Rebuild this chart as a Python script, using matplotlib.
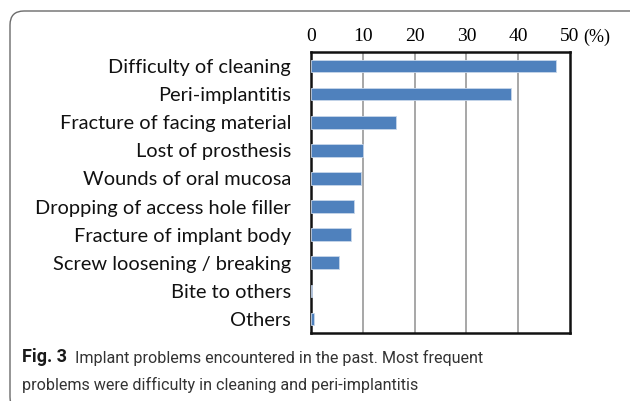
import numpy as np
import matplotlib
matplotlib.use('Agg')
import matplotlib.pyplot as plt
from matplotlib.patches import FancyBboxPatch

# Datos
categories = ['Difficulty of cleaning', 'Peri-implantitis', 'Fracture of facing material',
              'Lost of prosthesis', 'Wounds of oral mucosa', 'Dropping of access hole filler',
              'Fracture of implant body', 'Screw loosening / breaking', 'Bite to others', 'Others']
values = [47.3, 38.6, 16.4, 10.0, 9.7, 8.3, 7.8, 5.5, 0.25, 0.6]
xticks = [0, 10, 20, 30, 40, 50]

fig = plt.figure(figsize=(6.3, 4.01), dpi=100)
W, H = 630, 401

# Marco redondeado de la figura
frame = FancyBboxPatch((0.10, -0.10), 7.0, 4.01 - 0.11 + 0.10,
                       boxstyle='round,pad=0,rounding_size=0.14',
                       transform=fig.dpi_scale_trans, fill=False,
                       edgecolor='#6b6b6b', linewidth=1.0)
fig.patches.append(frame)

ax = fig.add_axes([311 / W, 1 - 333 / H, (570 - 311) / W, (333 - 52) / H])

y = np.arange(len(categories))
ax.barh(y, values, height=0.45, color='#4f81bd', edgecolor='#c7d6ea', linewidth=0.6, zorder=3)
ax.set_ylim(len(categories) - 0.5, -0.5)
ax.set_xlim(0, 50)

ax.set_yticks(y)
ax.set_yticklabels(categories, fontfamily='Lato', fontsize=14.4, color='#111111')
ax.set_xticks(xticks)
ax.set_xticklabels([str(t) for t in xticks], fontfamily='Liberation Serif', fontsize=14)
ax.xaxis.tick_top()
ax.tick_params(axis='x', length=0, pad=5)
ax.tick_params(axis='y', length=0, pad=14.4)

for t in xticks[1:-1]:
    ax.axvline(t, color='#a0a0a0', linewidth=1.3, zorder=1)

for s in ax.spines.values():
    s.set_linewidth(1.8)
    s.set_color('#111111')

ax.annotate('(%)', xy=(1, 1), xycoords='axes fraction', xytext=(9.4, 10.8),
            textcoords='offset points', fontfamily='Liberation Serif', fontsize=13,
            ha='left', va='center', annotation_clip=False)

# Pie de figura
cap_font = ['Liberation Sans Narrow', 'Roboto']
t1 = fig.text(22 / W, 1 - 362 / H, 'Fig. 3', fontfamily=cap_font, fontweight='bold',
              fontsize=13, va='baseline', color='#1a1a1a')
ax.annotate('  Implant problems encountered in the past. Most frequent', xy=(1, 0),
            xycoords=t1, va='bottom', ha='left', fontfamily=cap_font, fontsize=11.6,
            color='#333333', annotation_clip=False)
fig.text(22 / W, 1 - 390 / H, 'problems were difficulty in cleaning and peri-implantitis',
         fontfamily=cap_font, fontsize=11.6, va='baseline', color='#333333')

fig.savefig('out.png', dpi=100)
